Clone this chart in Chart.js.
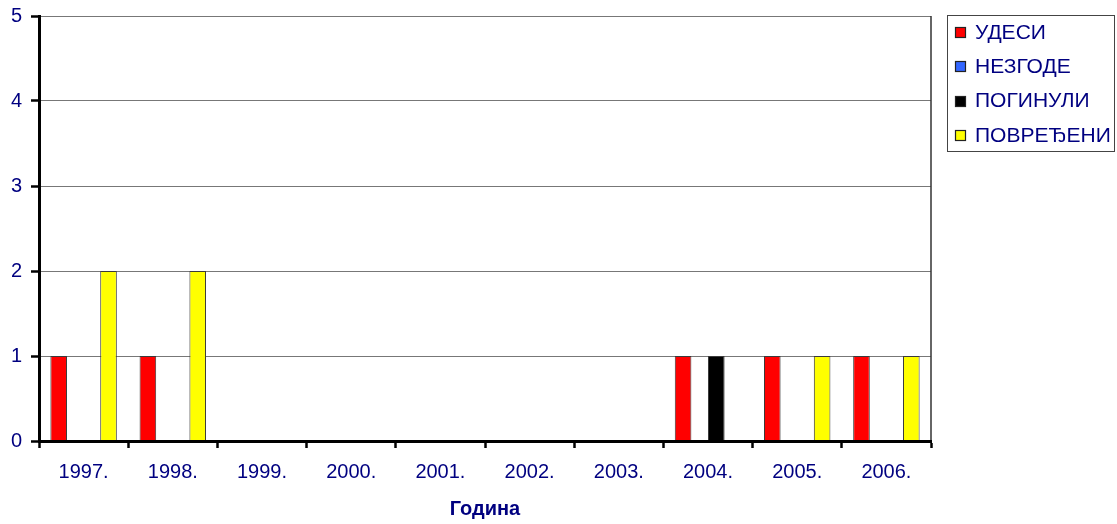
<!DOCTYPE html>
<html>
<head>
<meta charset="utf-8">
<title>Година</title>
<script src="https://cdn.jsdelivr.net/npm/chart.js@4.4.1/dist/chart.umd.min.js"></script>
<style>
  html, body { margin: 0; padding: 0; background: #ffffff; }
  #wrap { width: 1117px; height: 524px; }
</style>
</head>
<body>
<div id="wrap"><canvas id="c" width="1117" height="524"></canvas></div>
<script>
// Years on the category axis
const years = ['1997.', '1998.', '1999.', '2000.', '2001.', '2002.', '2003.', '2004.', '2005.', '2006.'];

// Counts per year
const udesi     = [1, 1, 0, 0, 0, 0, 0, 1, 1, 1];
const nezgode   = [0, 0, 0, 0, 0, 0, 0, 0, 0, 0];
const poginuli  = [0, 0, 0, 0, 0, 0, 0, 1, 0, 0];
const povredjeni = [2, 2, 0, 0, 0, 0, 0, 0, 1, 1];

const seriesNames = ['УДЕСИ', 'НЕЗГОДЕ', 'ПОГИНУЛИ', 'ПОВРЕЂЕНИ'];
const seriesColors = ['#ff0000', '#3366ff', '#000000', '#ffff00'];
const yTicks = [0, 1, 2, 3, 4, 5];

const NAVY = '#000080';
const FONT = "'Liberation Sans', Arial, sans-serif";

// Thin frame on the right side of the plot area
const plotFrame = {
  id: 'plotFrame',
  afterDatasetsDraw(chart) {
    const { ctx, chartArea: a } = chart;
    ctx.save();
    ctx.strokeStyle = '#333333';
    ctx.lineWidth = 1.5;
    ctx.beginPath();
    ctx.moveTo(a.right, a.top);
    ctx.lineTo(a.right, a.bottom);
    ctx.stroke();
    ctx.restore();
  }
};

// Boxed legend at the top right
const boxLegend = {
  id: 'boxLegend',
  afterDraw(chart) {
    const { ctx } = chart;
    const x0 = 947.5, y0 = 15.5, w = 167, h = 136;
    ctx.save();
    ctx.fillStyle = '#ffffff';
    ctx.fillRect(x0, y0, w, h);
    ctx.strokeStyle = '#444444';
    ctx.lineWidth = 1;
    ctx.strokeRect(x0, y0, w, h);
    ctx.font = '21px ' + FONT;
    ctx.textBaseline = 'middle';
    ctx.textAlign = 'left';
    chart.data.datasets.forEach((ds, i) => {
      const cy = 32 + i * 34.3;
      const top = Math.round(cy) - 4.5;
      ctx.fillStyle = ds.backgroundColor;
      ctx.fillRect(955.5, top, 10, 10);
      ctx.strokeStyle = '#222222';
      ctx.lineWidth = 1.2;
      ctx.strokeRect(955.5, top, 10, 10);
      ctx.fillStyle = NAVY;
      ctx.fillText(ds.label, 975, cy + 1);
    });
    ctx.restore();
  }
};

const datasets = [udesi, nezgode, poginuli, povredjeni].map((vals, i) => ({
  label: seriesNames[i],
  data: vals,
  backgroundColor: seriesColors[i],
  borderColor: '#3a3a3a',
  borderWidth: 1,
  borderSkipped: 'start',
  categoryPercentage: 0.745,
  barPercentage: 1.0
}));

new Chart(document.getElementById('c'), {
  type: 'bar',
  data: { labels: years, datasets },
  options: {
    responsive: false,
    animation: false,
    devicePixelRatio: 1,
    layout: { padding: { top: 16, right: 186, left: 0, bottom: 0 } },
    plugins: {
      legend: { display: false },
      tooltip: { enabled: false }
    },
    scales: {
      x: {
        offset: true,
        afterFit(s) { s.height = 83; },
        grid: {
          offset: true,
          drawOnChartArea: false,
          drawTicks: true,
          tickLength: 7,
          tickColor: '#000000',
          tickWidth: 2.5
        },
        border: { display: true, color: '#000000', width: 3, z: 1 },
        ticks: {
          color: NAVY,
          font: { family: FONT, size: 20 },
          padding: 12,
          maxRotation: 0,
          autoSkip: false
        },
        title: {
          display: true,
          text: 'Година',
          color: NAVY,
          font: { family: FONT, size: 20, weight: 'bold' },
          padding: { top: 0, bottom: 3 }
        }
      },
      y: {
        min: 0,
        max: 5,
        afterFit(s) {
          s.width = 39;
          s.paddingTop = 0;
          s.paddingBottom = 0;
        },
        afterBuildTicks(s) { s.ticks = yTicks.map(v => ({ value: v })); },
        grid: {
          color: '#777777',
          lineWidth: 1,
          drawTicks: true,
          tickLength: 8,
          tickColor: '#000000',
          tickWidth: 2.5
        },
        border: { display: true, color: '#000000', width: 3, z: 1 },
        ticks: {
          color: NAVY,
          font: { family: FONT, size: 20 },
          padding: 9
        }
      }
    }
  },
  plugins: [plotFrame, boxLegend]
});
</script>
</body>
</html>
